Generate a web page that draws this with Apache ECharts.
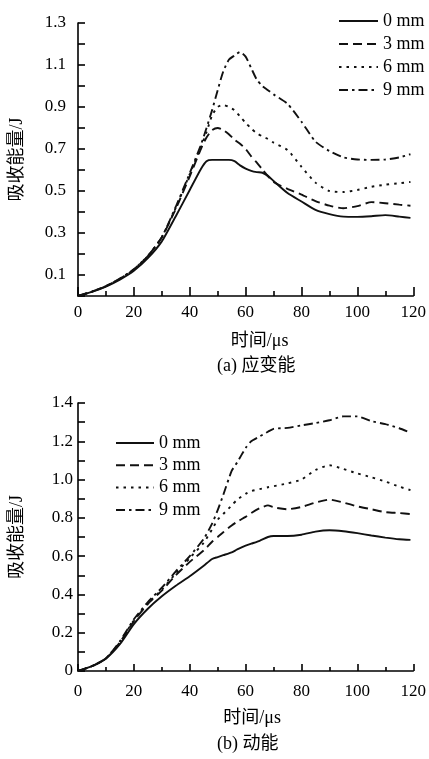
<!DOCTYPE html>
<html>
<head>
<meta charset="utf-8">
<script src="https://cdn.jsdelivr.net/npm/echarts@6/dist/echarts.min.js"></script>
<style>
html,body{margin:0;padding:0;background:#fff;}
#chart{width:429px;height:759px;}
</style>
</head>
<body>
<div id="chart"></div>
<script>
// ---------- Data ----------
const seriesNames = ['0 mm', '3 mm', '6 mm', '9 mm'];

// (a) 应变能
const timeA = [0,5,10,15,20,25,30,35,40,44,46,48,50,52,54,56,58,60,62,64,66,68,70,75,80,85,90,95,100,105,110,115,119];
const strain0 = [0,0.02,0.045,0.078,0.12,0.18,0.26,0.38,0.505,0.605,0.642,0.648,0.648,0.648,0.648,0.642,0.622,0.607,0.596,0.59,0.587,0.572,0.548,0.49,0.45,0.41,0.39,0.378,0.377,0.38,0.385,0.378,0.372];
const strain3 = [0,0.021,0.047,0.082,0.126,0.19,0.28,0.415,0.57,0.7,0.755,0.79,0.8,0.79,0.77,0.745,0.725,0.7,0.665,0.635,0.602,0.57,0.543,0.51,0.483,0.452,0.43,0.418,0.428,0.447,0.442,0.435,0.43];
const strain6 = [0,0.021,0.047,0.082,0.127,0.19,0.28,0.42,0.58,0.71,0.78,0.86,0.9,0.91,0.9,0.885,0.855,0.825,0.797,0.775,0.76,0.748,0.73,0.695,0.615,0.54,0.5,0.495,0.505,0.52,0.53,0.537,0.543];
const strain9 = [0,0.021,0.047,0.083,0.128,0.19,0.28,0.425,0.585,0.72,0.8,0.885,0.98,1.07,1.125,1.145,1.162,1.14,1.085,1.03,1.0,0.98,0.96,0.915,0.83,0.735,0.69,0.66,0.65,0.648,0.65,0.66,0.675];

// (b) 动能
const timeB = [0,5,10,15,20,25,30,35,40,45,48,50,52,55,57,60,62,65,68,70,75,80,85,90,95,100,105,110,115,119];
const kinetic0 = [0,0.025,0.065,0.14,0.245,0.325,0.39,0.445,0.495,0.55,0.585,0.595,0.605,0.62,0.635,0.655,0.665,0.68,0.7,0.705,0.705,0.712,0.728,0.735,0.73,0.72,0.708,0.697,0.688,0.685];
const kinetic3 = [0,0.025,0.065,0.15,0.26,0.35,0.42,0.5,0.57,0.63,0.675,0.7,0.725,0.76,0.78,0.805,0.825,0.85,0.865,0.855,0.845,0.857,0.88,0.895,0.88,0.86,0.845,0.83,0.825,0.82];
const kinetic6 = [0,0.025,0.066,0.152,0.265,0.355,0.425,0.51,0.59,0.67,0.74,0.79,0.82,0.865,0.895,0.925,0.94,0.95,0.96,0.965,0.98,1.0,1.05,1.075,1.055,1.032,1.012,0.99,0.963,0.945];
const kinetic9 = [0,0.025,0.066,0.155,0.27,0.36,0.435,0.52,0.6,0.69,0.77,0.84,0.92,1.045,1.09,1.165,1.2,1.225,1.25,1.265,1.27,1.283,1.295,1.31,1.33,1.33,1.305,1.29,1.268,1.245];

const xTicksLabels = [0,20,40,60,80,100,120];
const yTitle = '吸收能量/J';
const xTitle = '时间/μs';
const captionA = '(a) 应变能';
const captionB = '(b) 动能';

// ---------- Styles ----------
const FONT = "'Liberation Serif', 'Noto Sans CJK SC', serif";
const dashTypes = ['solid', [9,5], [2.5,5], [9,4,2.5,4]];

function pairs(t, v){ return t.map((x,i)=>[x, v[i]]); }

const chart = echarts.init(document.getElementById('chart'), null, {renderer:'canvas'});

const axisCommon = {
  axisLine:{show:true, onZero:false, lineStyle:{color:'#000', width:1.6}},
  splitLine:{show:false},
  minorSplitLine:{show:false}
};

function mkSeries(name, data, idx, axisIdx){
  return {
    name: name, type:'line', data: data,
    xAxisIndex: axisIdx, yAxisIndex: axisIdx,
    symbol:'circle', symbolSize:0, showSymbol:false, smooth:0.2,
    lineStyle:{color:'#111', width:1.9, type: dashTypes[idx], cap:'butt'},
    itemStyle:{color:'#111'},
    z: 3
  };
}

const legendCommon = {
  data: seriesNames, orient:'vertical', itemHeight:14, selectedMode:false,
  itemStyle:{opacity:0, borderWidth:0},
  lineStyle:{width:2},
  textStyle:{fontFamily:FONT, fontSize:18, color:'#000', padding:[0,0,0,0]}
};

const option = {
  backgroundColor:'#fff',
  animation:false,
  textStyle:{fontFamily:FONT},
  grid:[
    {left:75, top:23, right:6, height:273, containLabel:false},
    {left:75, top:403, right:11, height:268, containLabel:false}
  ],
  legend:[
    Object.assign({}, legendCommon, {left:333, top:7, itemWidth:39, itemGap:5}),
    Object.assign({}, legendCommon, {left:110, top:429, itemWidth:38, itemGap:4.3})
  ],
  xAxis:[
    Object.assign({}, axisCommon, {
      gridIndex:0, type:'value', min:0, max:120, interval:20,
      name: xTitle, nameLocation:'middle', nameGap:36,
      nameTextStyle:{fontFamily:FONT, fontSize:18, color:'#000', padding:[0,0,0,28]},
      axisTick:{show:true, inside:true, length:9, lineStyle:{color:'#000', width:1.6}},
      minorTick:{show:true, splitNumber:2, length:5, lineStyle:{color:'#000', width:1.6}},
      axisLabel:{fontFamily:FONT, fontSize:17, color:'#000', margin:8,
        formatter:v=> xTicksLabels.indexOf(Math.round(v))>=0 ? String(Math.round(v)) : ''}
    }),
    Object.assign({}, axisCommon, {
      gridIndex:1, type:'value', min:0, max:120, interval:20,
      name: xTitle, nameLocation:'middle', nameGap:38,
      nameTextStyle:{fontFamily:FONT, fontSize:18, color:'#000', padding:[0,0,0,13]},
      axisTick:{show:true, inside:true, length:7, lineStyle:{color:'#000', width:1.6}},
      minorTick:{show:true, splitNumber:2, length:4, lineStyle:{color:'#000', width:1.6}},
      axisLabel:{fontFamily:FONT, fontSize:17, color:'#000', margin:12,
        formatter:v=> xTicksLabels.indexOf(Math.round(v))>=0 ? String(Math.round(v)) : ''}
    })
  ],
  yAxis:[
    Object.assign({}, axisCommon, {
      gridIndex:0, type:'value', min:0, max:1.3, interval:0.1,
      name: yTitle, nameLocation:'middle', nameGap:52, nameRotate:90,
      nameTextStyle:{fontFamily:FONT, fontSize:18, color:'#000'},
      axisTick:{show:true, inside:true, length:7, lineStyle:{color:'#000', width:1.6}},
      axisLabel:{fontFamily:FONT, fontSize:17, color:'#000', margin:12,
        formatter:v=>{ const k=Math.round(v*10); return (k%2===1) ? (k/10).toFixed(1) : ''; }}
    }),
    Object.assign({}, axisCommon, {
      gridIndex:1, type:'value', min:0, max:1.4, interval:0.2,
      name: yTitle, nameLocation:'middle', nameGap:52, nameRotate:90,
      nameTextStyle:{fontFamily:FONT, fontSize:18, color:'#000'},
      axisTick:{show:true, inside:true, length:7, lineStyle:{color:'#000', width:1.6}},
      minorTick:{show:true, splitNumber:2, length:7, lineStyle:{color:'#000', width:1.6}},
      axisLabel:{fontFamily:FONT, fontSize:17, color:'#000', margin:5,
        formatter:v=>{ const k=Math.round(v*10); return k===0 ? '0' : (k/10).toFixed(1); }}
    })
  ],
  graphic:[
    {type:'text', left:217, top:357, style:{text:captionA, font:"18px "+FONT, fill:'#000'}},
    {type:'text', left:217, top:735, style:{text:captionB, font:"18px "+FONT, fill:'#000'}}
  ],
  series:[
    mkSeries(seriesNames[0], pairs(timeA, strain0), 0, 0),
    mkSeries(seriesNames[1], pairs(timeA, strain3), 1, 0),
    mkSeries(seriesNames[2], pairs(timeA, strain6), 2, 0),
    mkSeries(seriesNames[3], pairs(timeA, strain9), 3, 0),
    mkSeries(seriesNames[0], pairs(timeB, kinetic0), 0, 1),
    mkSeries(seriesNames[1], pairs(timeB, kinetic3), 1, 1),
    mkSeries(seriesNames[2], pairs(timeB, kinetic6), 2, 1),
    mkSeries(seriesNames[3], pairs(timeB, kinetic9), 3, 1)
  ]
};
chart.setOption(option);
</script>
</body>
</html>
